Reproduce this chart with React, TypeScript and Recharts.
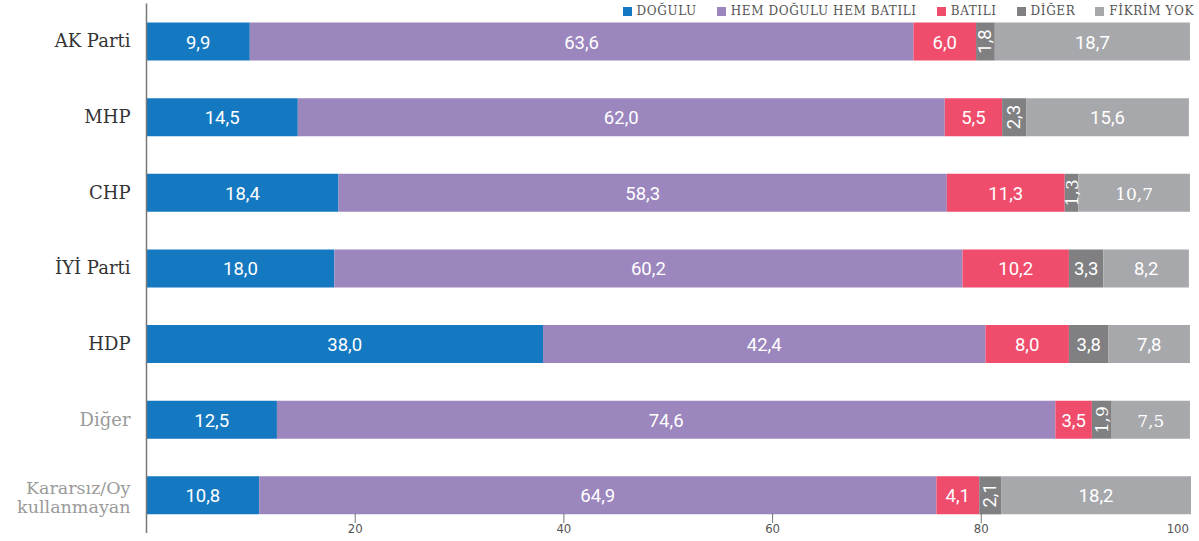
import React from "react";
import { BarChart, Bar, XAxis, YAxis, LabelList } from "recharts";

const categories = [
  "AK Parti",
  "MHP",
  "CHP",
  "İYİ Parti",
  "HDP",
  "Diğer",
  "Kararsız/Oy kullanmayan",
];
const dogulu = [9.9, 14.5, 18.4, 18.0, 38.0, 12.5, 10.8];
const hemHem = [63.6, 62.0, 58.3, 60.2, 42.4, 74.6, 64.9];
const batili = [6.0, 5.5, 11.3, 10.2, 8.0, 3.5, 4.1];
const diger = [1.8, 2.3, 1.3, 3.3, 3.8, 1.9, 2.1];
const fikrimYok = [18.7, 15.6, 10.7, 8.2, 7.8, 7.5, 18.2];
const xTicks = [20, 40, 60, 80, 100];

const SERIES = [
  { key: "dogulu", name: "DOĞULU", color: "#1479c1" },
  { key: "hemHem", name: "HEM DOĞULU HEM BATILI", color: "#9b86be" },
  { key: "batili", name: "BATILI", color: "#f04d6d" },
  { key: "diger", name: "DİĞER", color: "#808083" },
  { key: "fikrimYok", name: "FİKRİM YOK", color: "#a7a8ab" },
];

const data = categories.map((name, i) => ({
  name,
  dogulu: dogulu[i],
  hemHem: hemHem[i],
  batili: batili[i],
  diger: diger[i],
  fikrimYok: fikrimYok[i],
}));

const SLAB = "'DejaVu Serif', 'Liberation Serif', serif";
const SANS = "Roboto, 'Noto Sans', sans-serif";
const NARROW = "'Liberation Sans Narrow', 'DejaVu Sans Condensed', Roboto, sans-serif";

const fmt = (v: number) => v.toFixed(1).replace(".", ",");

// rows where the grey labels came out in the slab font
const slabRows = [2, 5];

const makeLabel = (seriesKey: string) => (props: any) => {
  const { x, y, width, height, value, index } = props;
  if (value == null) return null;
  const cx = x + width / 2;
  const cy = y + height / 2;
  const useSlab =
    (seriesKey === "diger" || seriesKey === "fikrimYok") &&
    slabRows.includes(index);
  const family = useSlab ? SLAB : SANS;
  const size = useSlab ? 17 : 18.5;
  if (value < 3) {
    return (
      <text
        x={cx}
        y={cy}
        transform={`rotate(-90 ${cx} ${cy})`}
        textAnchor="middle"
        dominantBaseline="central"
        fill="#fff"
        fontFamily={family}
        fontSize={size}
      >
        {fmt(value)}
      </text>
    );
  }
  return (
    <text
      x={cx}
      y={cy + 1}
      textAnchor="middle"
      dominantBaseline="central"
      fill="#fff"
      fontFamily={family}
      fontSize={size}
    >
      {fmt(value)}
    </text>
  );
};

const CategoryTick = (props: any) => {
  const { x, y, payload } = props;
  const label: string = payload.value;
  const muted = label === "Diğer" || label.startsWith("Kararsız");
  const color = muted ? "#9a9a9a" : "#333";
  if (label.startsWith("Kararsız")) {
    return (
      <text
        x={x}
        y={y}
        textAnchor="end"
        fill={color}
        fontFamily={SLAB}
        fontSize={17.5}
      >
        <tspan x={x} dy={-1}>
          Kararsız/Oy
        </tspan>
        <tspan x={x} dy={18.5}>
          kullanmayan
        </tspan>
      </text>
    );
  }
  return (
    <text
      x={x}
      y={y}
      dy={6}
      textAnchor="end"
      fill={color}
      fontFamily={SLAB}
      fontSize={18}
    >
      {label}
    </text>
  );
};

const ValueTick = (props: any) => {
  const { x, y, payload } = props;
  const last = payload.value === 100;
  return (
    <g>
      {!last && <line x1={x} x2={x} y1={y - 20} y2={y - 10} stroke="#777" />}
      <text
        x={last ? x - 1 : x}
        y={y}
        textAnchor={last ? "end" : "middle"}
        fill="#555"
        fontFamily={NARROW}
        fontSize={13}
      >
        {payload.value}
      </text>
    </g>
  );
};

export default function App() {
  return (
    <div style={{ position: "relative", width: 1199, height: 541 }}>
      <style>{`body{margin:0}`}</style>
      <BarChart
        width={1199}
        height={541}
        data={data}
        layout="vertical"
        barSize={38}
        margin={{ top: 3.5, right: 8, bottom: 0, left: 0 }}
      >
        <XAxis
          type="number"
          domain={[0, 100]}
          ticks={xTicks}
          axisLine={false}
          tickLine={false}
          tickSize={0}
          tickMargin={0}
          height={8}
          tick={<ValueTick />}
          interval={0}
        />
        <YAxis
          type="category"
          dataKey="name"
          width={146.5}
          axisLine={{ stroke: "#777", strokeWidth: 1.5 }}
          tickLine={false}
          tickSize={0}
          tickMargin={16}
          tick={<CategoryTick />}
          interval={0}
        />
        {SERIES.map((s) => (
          <Bar
            key={s.key}
            dataKey={s.key}
            stackId="a"
            fill={s.color}
            isAnimationActive={false}
          >
            <LabelList dataKey={s.key} content={makeLabel(s.key)} />
          </Bar>
        ))}
      </BarChart>
      <div
        style={{
          position: "absolute",
          top: 4,
          right: 5,
          display: "flex",
          alignItems: "center",
          gap: 20,
          fontFamily: SLAB,
          fontSize: 12,
          letterSpacing: 0.6,
          color: "#555",
          lineHeight: "15px",
        }}
      >
        {SERIES.map((s) => (
          <div key={s.key} style={{ display: "flex", alignItems: "center" }}>
            <span
              style={{
                display: "inline-block",
                width: 9,
                height: 9,
                background: s.color,
                marginRight: 5,
              }}
            />
            <span>{s.name}</span>
          </div>
        ))}
      </div>
    </div>
  );
}
